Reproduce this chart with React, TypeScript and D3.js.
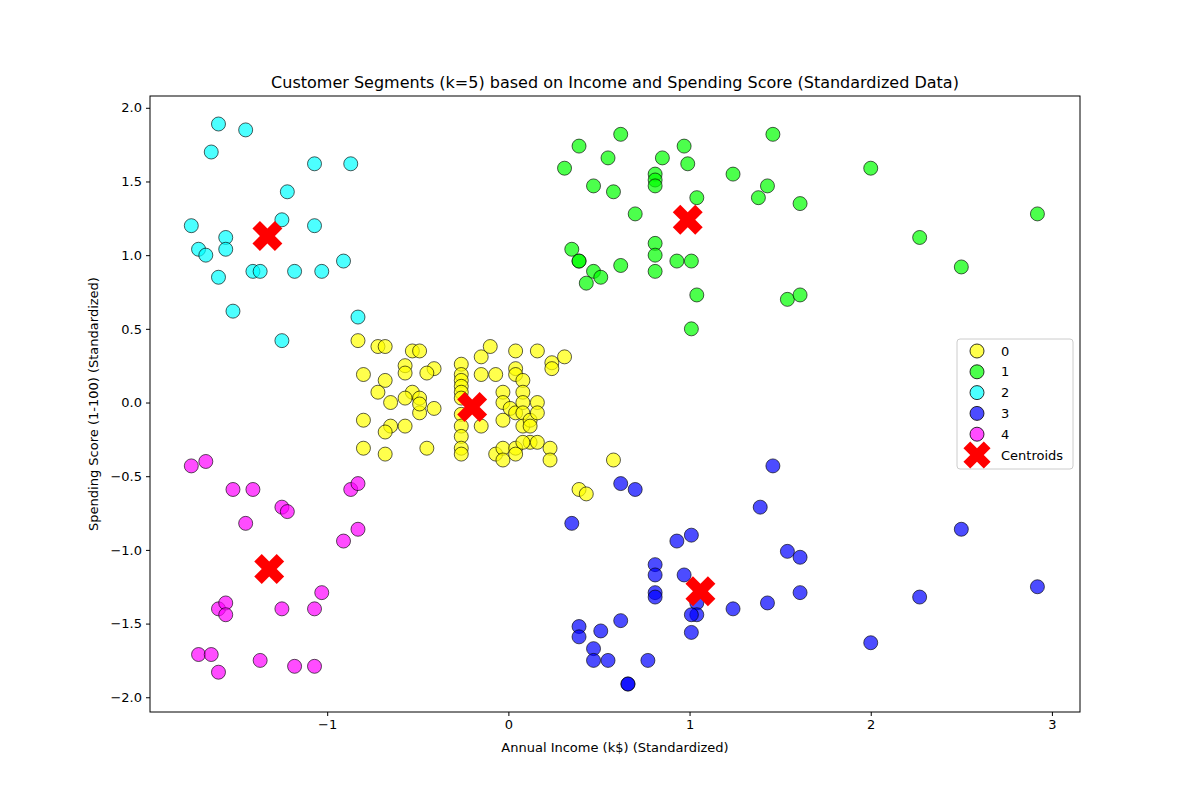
import * as d3 from "d3";
import { useEffect, useRef } from "react";

// cluster points [income, spending] (standardized)
const cluster0 = [
  [-0.83, 0.42], [-0.72, 0.38], [-0.68, 0.38], [-0.53, 0.35], [-0.49, 0.35], [-0.57, 0.25], [-0.57, 0.2],
  [-0.41, 0.23], [-0.45, 0.2], [-0.8, 0.19], [-0.68, 0.15], [-0.72, 0.07], [-0.53, 0.07], [-0.49, 0.03],
  [-0.65, 0.0], [-0.57, 0.03], [-0.41, -0.04], [-0.49, -0.07], [-0.49, -0.01], [-0.8, -0.12], [-0.65, -0.16],
  [-0.57, -0.16], [-0.68, -0.2], [-0.8, -0.31], [-0.68, -0.35], [-0.45, -0.31], [-0.26, 0.26], [-0.26, 0.19],
  [-0.26, 0.15], [-0.26, 0.11], [-0.26, 0.07], [-0.26, 0.03], [-0.26, -0.08], [-0.26, -0.16], [-0.26, -0.23],
  [-0.26, -0.31], [-0.26, -0.35], [-0.15, 0.31], [-0.1, 0.38], [-0.15, 0.19], [-0.07, 0.19], [-0.15, -0.16],
  [-0.07, -0.35], [-0.03, -0.31], [-0.03, -0.39], [-0.03, 0.07], [-0.03, 0.0], [-0.03, -0.12], [0.04, 0.35],
  [0.04, 0.23], [0.04, 0.19], [0.01, -0.04], [0.04, -0.07], [0.08, 0.15], [0.08, 0.07], [0.08, 0.0],
  [0.08, -0.07], [0.08, -0.16], [0.12, -0.12], [0.12, -0.16], [0.12, -0.27], [0.04, -0.31], [0.04, -0.35],
  [0.08, -0.27], [0.16, 0.0], [0.16, -0.07], [0.16, -0.27], [0.16, 0.35], [0.24, 0.27], [0.24, 0.23],
  [0.31, 0.31], [0.23, -0.31], [0.23, -0.39], [0.39, -0.59], [0.43, -0.62], [0.58, -0.39],
];
const cluster1 = [
  [0.39, 1.74], [0.62, 1.82], [0.85, 1.66], [0.31, 1.59], [0.55, 1.66], [0.81, 1.55], [0.81, 1.51],
  [0.97, 1.74], [1.46, 1.82], [0.99, 1.62], [0.81, 1.47], [0.47, 1.47], [0.58, 1.43], [1.24, 1.55],
  [1.43, 1.47], [1.38, 1.39], [1.04, 1.39], [2.0, 1.59], [1.61, 1.35], [0.7, 1.28], [2.92, 1.28],
  [2.27, 1.12], [0.35, 1.04], [0.39, 0.96], [0.39, 0.96], [0.81, 1.08], [0.81, 1.0], [0.47, 0.89],
  [0.51, 0.85], [0.62, 0.93], [0.81, 0.89], [0.93, 0.96], [1.01, 0.96], [0.43, 0.81], [1.04, 0.73],
  [2.5, 0.92], [1.54, 0.7], [1.61, 0.73], [1.01, 0.5],
];
const cluster2 = [
  [-1.6, 1.89], [-1.45, 1.85], [-1.64, 1.7], [-1.07, 1.62], [-0.87, 1.62], [-1.22, 1.43], [-1.75, 1.2],
  [-1.25, 1.24], [-1.07, 1.2], [-1.56, 1.12], [-1.71, 1.04], [-1.67, 1.0], [-1.56, 1.04], [-1.6, 0.85],
  [-1.41, 0.89], [-1.37, 0.89], [-1.18, 0.89], [-1.03, 0.89], [-0.91, 0.96], [-1.52, 0.62], [-0.83, 0.58],
  [-1.25, 0.42],
];
const cluster3 = [
  [1.46, -0.43], [0.35, -0.82], [0.62, -0.55], [0.7, -0.59], [0.93, -0.94], [1.01, -0.9], [1.39, -0.71],
  [1.54, -1.01], [1.61, -1.05], [2.5, -0.86], [0.97, -1.17], [0.81, -1.1], [0.81, -1.17], [0.81, -1.29],
  [0.81, -1.32], [1.04, -1.36], [1.04, -1.44], [1.01, -1.44], [1.01, -1.56], [0.62, -1.48], [1.24, -1.4],
  [1.43, -1.36], [1.61, -1.29], [2.27, -1.32], [2.92, -1.25], [0.39, -1.52], [0.39, -1.59], [0.51, -1.55],
  [0.47, -1.67], [0.47, -1.75], [0.55, -1.75], [0.77, -1.75], [0.66, -1.91], [0.66, -1.91], [2.0, -1.63],
];
const cluster4 = [
  [-1.75, -0.43], [-1.67, -0.4], [-1.52, -0.59], [-1.41, -0.59], [-0.87, -0.59], [-0.83, -0.55],
  [-1.45, -0.82], [-1.25, -0.71], [-1.22, -0.74], [-0.91, -0.94], [-0.83, -0.86], [-1.03, -1.29],
  [-1.6, -1.4], [-1.56, -1.36], [-1.56, -1.44], [-1.25, -1.4], [-1.07, -1.4], [-1.71, -1.71],
  [-1.64, -1.71], [-1.37, -1.75], [-1.18, -1.79], [-1.07, -1.79], [-1.6, -1.83],
];
const clusters = [cluster0, cluster1, cluster2, cluster3, cluster4];
const clusterLabels = ["0", "1", "2", "3", "4"];
const clusterColors = ["#ffff00", "#00ff00", "#00ffff", "#0000ff", "#ff00ff"];
const centroids = [[-0.2, -0.03], [0.99, 1.24], [-1.33, 1.13], [1.06, -1.28], [-1.32, -1.13]];
const xTicks = [-1, 0, 1, 2, 3];
const yTicks = [-2, -1.5, -1, -0.5, 0, 0.5, 1, 1.5, 2];

export default function App() {
  const ref = useRef<SVGSVGElement | null>(null);

  useEffect(() => {
    document.body.style.margin = "0";
    if (!ref.current) return;
    const svg = d3.select(ref.current);
    svg.selectAll("*").remove();
    const m = { left: 150, right: 1080, top: 96, bottom: 712 };
    const x = d3.scaleLinear().domain([-1.978, 3.155]).range([m.left, m.right]);
    const y = d3.scaleLinear().domain([-2.1, 2.08]).range([m.bottom, m.top]);
    const font = "DejaVu Sans, sans-serif";

    svg.append("rect").attr("width", 1200).attr("height", 800).attr("fill", "#fff");

    const xa = svg.append("g").attr("transform", `translate(0,${m.bottom})`)
      .call(d3.axisBottom(x).tickValues(xTicks).tickSize(4).tickPadding(4)
        .tickFormat(d => (+d < 0 ? "\u2212" + Math.abs(+d) : String(d))));
    const ya = svg.append("g").attr("transform", `translate(${m.left},0)`)
      .call(d3.axisLeft(y).tickValues(yTicks).tickSize(4).tickPadding(4)
        .tickFormat(d => { const s = d3.format(".1f")(+d); return s.replace("-", "\u2212"); }));
    [xa, ya].forEach(a => {
      a.select(".domain").remove();
      a.selectAll("text").attr("font-family", font).attr("font-size", 13).attr("fill", "#000");
      a.selectAll("line").attr("stroke", "#000");
    });

    const sym = d3.symbol().type(d3.symbolCross).size(560)();
    const drawX = (g: any, cx: number, cy: number, size = 560) =>
      g.append("path").attr("d", d3.symbol().type(d3.symbolCross).size(size)())
        .attr("transform", `translate(${cx},${cy}) rotate(45)`).attr("fill", "#ff0000");

    clusters.forEach((pts, i) => {
      svg.append("g").selectAll("circle").data(pts).enter().append("circle")
        .attr("cx", d => x(d[0])).attr("cy", d => y(d[1])).attr("r", 7)
        .attr("fill", clusterColors[i]).attr("fill-opacity", 0.7)
        .attr("stroke", "#000").attr("stroke-opacity", 0.8).attr("stroke-width", 0.8);
    });
    centroids.forEach(c => drawX(svg, x(c[0]), y(c[1])));
    void sym;

    svg.append("rect").attr("x", m.left).attr("y", m.top)
      .attr("width", m.right - m.left).attr("height", m.bottom - m.top)
      .attr("fill", "none").attr("stroke", "#000").attr("stroke-width", 1);

    svg.append("text").attr("x", (m.left + m.right) / 2).attr("y", 88).attr("text-anchor", "middle")
      .attr("font-family", font).attr("font-size", 16).text("Customer Segments (k=5) based on Income and Spending Score (Standardized Data)");
    svg.append("text").attr("x", (m.left + m.right) / 2).attr("y", 752).attr("text-anchor", "middle")
      .attr("font-family", font).attr("font-size", 13).text("Annual Income (k$) (Standardized)");
    svg.append("text").attr("transform", `translate(98,${(m.top + m.bottom) / 2}) rotate(-90)`)
      .attr("text-anchor", "middle").attr("font-family", font).attr("font-size", 13)
      .text("Spending Score (1-100) (Standardized)");

    // legend
    const lg = svg.append("g");
    lg.append("rect").attr("x", 957).attr("y", 339).attr("width", 116).attr("height", 130).attr("rx", 3)
      .attr("fill", "#fff").attr("fill-opacity", 0.8).attr("stroke", "#ccc");
    const rowY = (i: number) => 351 + i * 20.8;
    clusterLabels.forEach((lab, i) => {
      lg.append("circle").attr("cx", 977).attr("cy", rowY(i)).attr("r", 7)
        .attr("fill", clusterColors[i]).attr("fill-opacity", 0.7).attr("stroke", "#000").attr("stroke-width", 0.8);
      lg.append("text").attr("x", 1001).attr("y", rowY(i) + 4.5).attr("font-family", font).attr("font-size", 13).text(lab);
    });
    drawX(lg, 977, rowY(5), 460);
    lg.append("text").attr("x", 1001).attr("y", rowY(5) + 4.5).attr("font-family", font).attr("font-size", 13).text("Centroids");
  }, []);

  return <svg ref={ref} width={1200} height={800} style={{ display: "block" }} />;
}
